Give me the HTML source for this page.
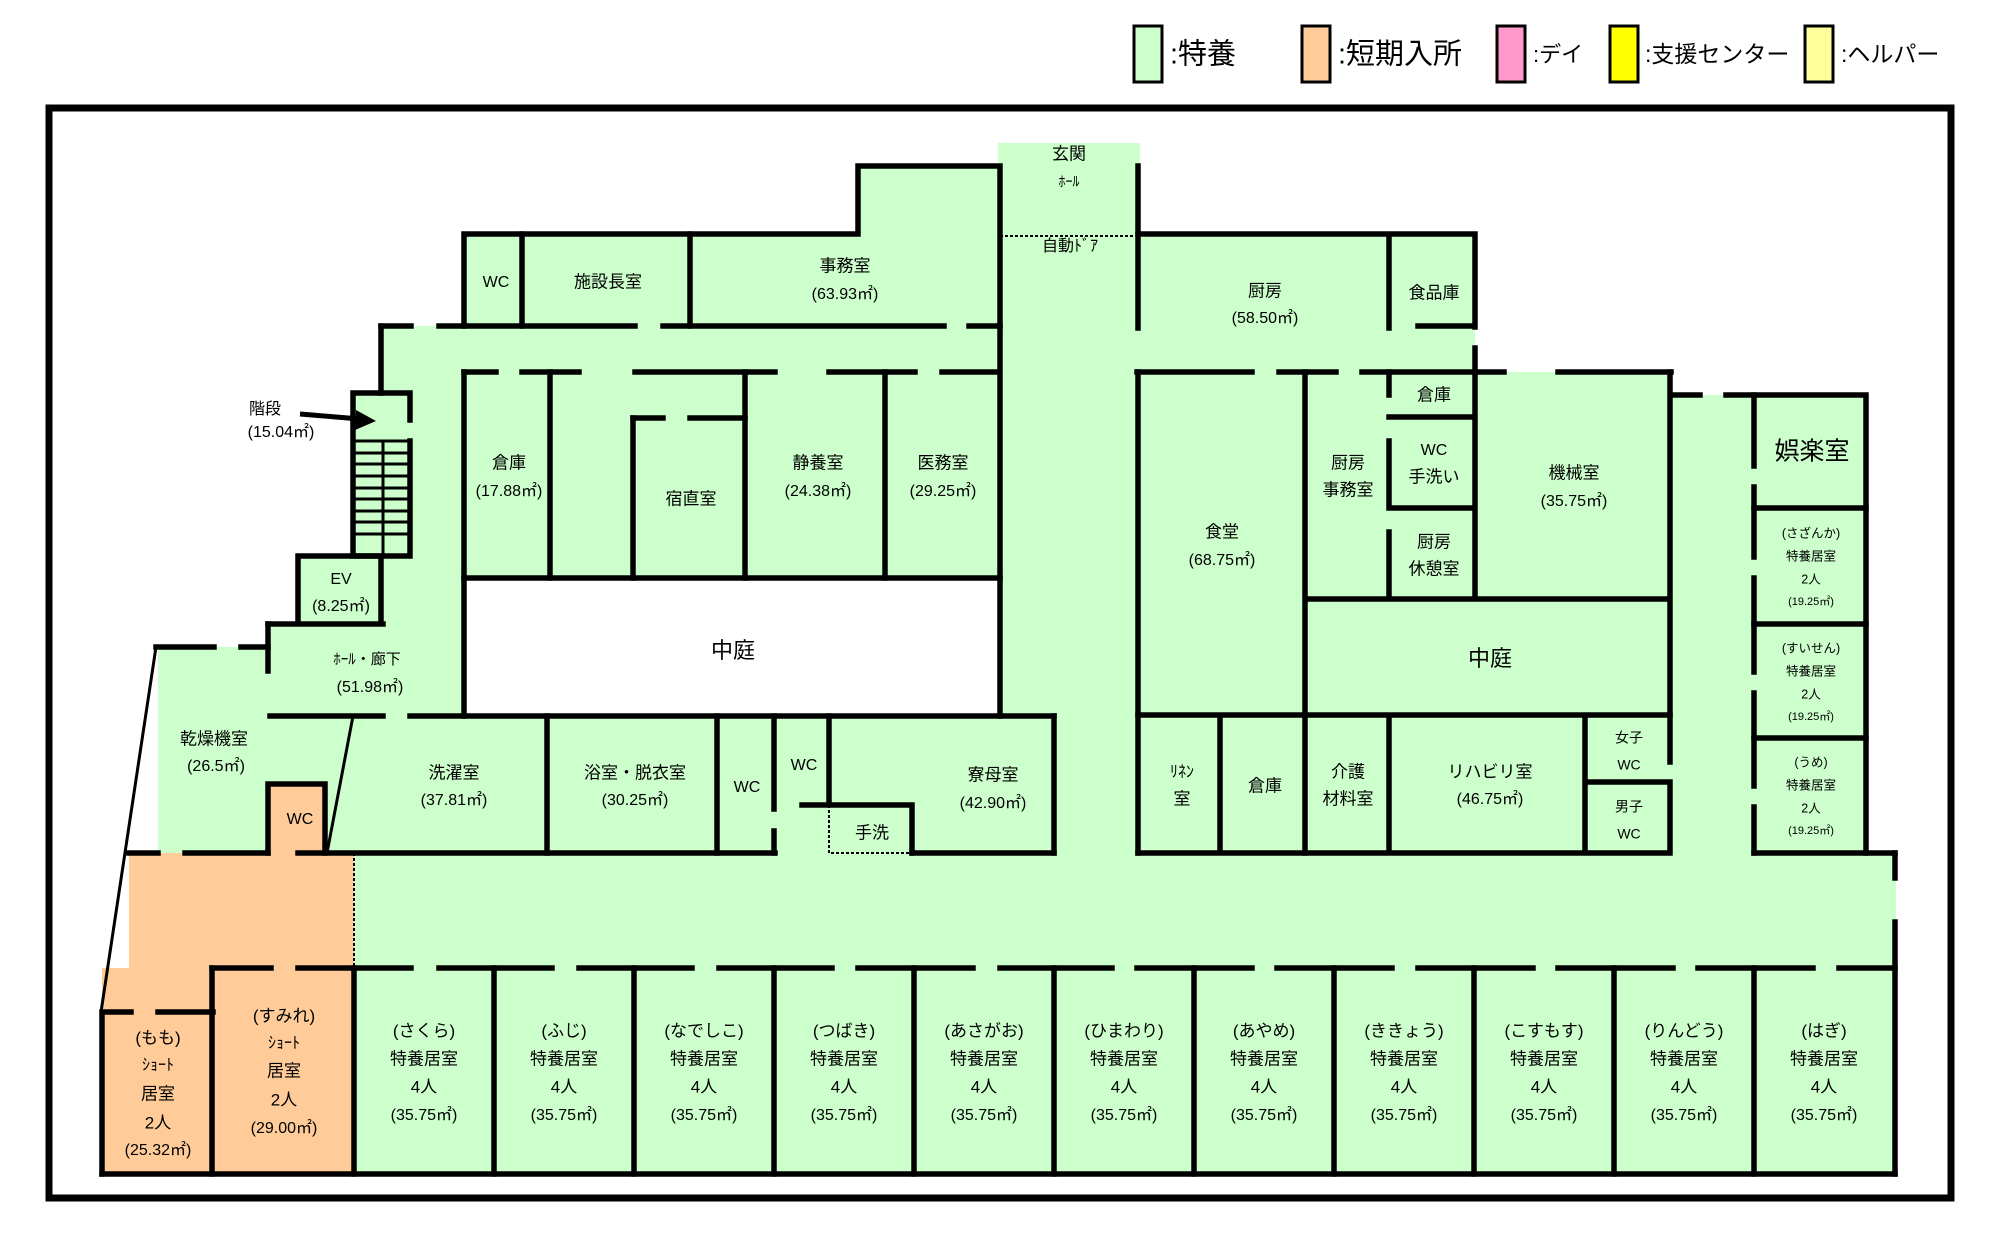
<!DOCTYPE html>
<html><head><meta charset="utf-8"><style>
html,body{margin:0;padding:0;background:#fff;}
svg{display:block;}
text{font-family:"Liberation Sans","Noto Sans CJK JP",sans-serif;fill:#000;text-anchor:middle;dominant-baseline:middle;}
</style></head><body>
<svg width="2000" height="1238" viewBox="0 0 2000 1238" xmlns="http://www.w3.org/2000/svg">
<g stroke="#000" stroke-width="3">
<rect x="1134" y="26" width="28" height="56" fill="#ccffcc"/>
<rect x="1302" y="26" width="28" height="56" fill="#ffcc99"/>
<rect x="1497" y="26" width="28" height="56" fill="#ff99cc"/>
<rect x="1610" y="26" width="28" height="56" fill="#ffff00"/>
<rect x="1805" y="26" width="28" height="56" fill="#ffff99"/>
</g>
<text x="1170" y="56" font-size="29" style="text-anchor:start">:特養</text>
<text x="1338" y="56" font-size="29" style="text-anchor:start">:短期入所</text>
<text x="1533" y="56" font-size="22" style="text-anchor:start">:デイ</text>
<text x="1645" y="56" font-size="23" style="text-anchor:start">:支援センター</text>
<text x="1841" y="56" font-size="23" style="text-anchor:start">:ヘルパー</text>
<g fill="#ccffcc">
<polygon points="464,234 858,234 858,166 1006,166 1006,326 464,326"/>
<rect x="998" y="143" width="142" height="830"/>
<rect x="381" y="326" width="625" height="46"/>
<rect x="381" y="372" width="83" height="344"/>
<rect x="464" y="372" width="542" height="206"/>
<rect x="353" y="393" width="57" height="163"/>
<rect x="298" y="556" width="83" height="68"/>
<rect x="268" y="624" width="196" height="92"/>
<rect x="158" y="647" width="110" height="69"/>
<rect x="158" y="716" width="896" height="137"/>
<rect x="129" y="853" width="1767" height="115"/>
<rect x="354" y="968" width="1541" height="206"/>
<rect x="1137" y="234" width="338" height="138"/>
<rect x="1137" y="372" width="533" height="481"/>
<rect x="1670" y="395" width="196" height="458"/>
</g>
<g fill="#ffcc99">
<polygon points="129,853 354,853 354,1174 102,1174 102,968 129,968"/>
<rect x="268" y="784" width="57" height="69"/>
</g>
<rect x="49" y="108" width="1902" height="1090" fill="none" stroke="#000" stroke-width="7"/>
<g stroke="#000" stroke-width="5.5" fill="none" stroke-linecap="square">
<path d="M464,326 V234 H858 V166 H1000 M1000,166 V326"/>
<path d="M522,234 V326 M690,234 V326"/>
<path d="M381,326 H411 M439,326 H635 M663,326 H944 M969,326 H998"/>
<path d="M381,326 V393"/>
<path d="M410,420 V393 H353 V556 H410 V441"/>
<path d="M298,624 V556 H381 V624 M268,624 H383"/>
<path d="M268,624 V671"/>
<path d="M156,647 H214 M241,647 H268"/>
<path d="M464,372 H496 M522,372 H579 M635,372 H775 M829,372 H915 M942,372 H998"/>
<path d="M464,372 V716 M550,372 V578 M633,418 V578 M745,372 V578 M885,372 V578 M1000,326 V716"/>
<path d="M633,418 H663 M690,418 H745"/>
<path d="M464,578 H1000"/>
<path d="M270,716 H383 M410,716 H1054"/>
<path d="M1054,716 V853"/>
<path d="M268,853 V784 H325 V853"/>
<path d="M129,853 H158 M185,853 H268 M298,853 H775 M912,853 H1054"/>
<path d="M547,716 V853 M717,716 V853 M774,716 V809 M774,831 V853 M829,716 V805 M802,805 H912 V853"/>
<path d="M212,968 H271 M298,968 H411 M439,968 H552 M579,968 H692 M719,968 H832 M858,968 H973 M1000,968 H1112 M1137,968 H1252 M1277,968 H1392 M1418,968 H1533 M1558,968 H1673 M1698,968 H1813 M1839,968 H1895"/>
<path d="M102,1012 H131 M158,1012 H213 M102,1012 V1174 M212,968 V1174"/>
<path d="M354,968 V1174 M494,968 V1174 M634,968 V1174 M774,968 V1174 M914,968 V1174 M1054,968 V1174 M1194,968 V1174 M1334,968 V1174 M1474,968 V1174 M1614,968 V1174 M1754,968 V1174"/>
<path d="M1895,853 V878 M1895,922 V1174"/>
<path d="M102,1174 H1895"/>
<path d="M1754,853 H1895"/>
<path d="M1138,166 V328"/>
<path d="M1138,234 H1475 V327 M1475,348 V372 M1389,234 V328 M1418,326 H1475"/>
<path d="M1137,372 H1252 M1279,372 H1336 M1362,372 H1504 M1558,372 H1671"/>
<path d="M1138,372 V853 M1305,372 V853 M1389,372 V395 M1389,441 V508 M1389,532 V599 M1475,372 V599 M1389,417 H1475 M1389,508 H1475 M1305,599 H1670 M1670,372 V715"/>
<path d="M1138,715 H1670 M1220,715 V853 M1389,715 V853 M1585,715 V853 M1585,782 H1670 M1670,715 V762 M1670,786 V853 M1138,853 H1670"/>
<path d="M1672,395 H1700 M1726,395 H1866 V853"/>
<path d="M1754,395 V466 M1754,487 V557 M1754,578 V672 M1754,693 V786 M1754,807 V853"/>
<path d="M1754,508 H1866 M1754,624 H1866 M1754,738 H1866"/>
</g>
<g stroke="#000" stroke-width="3" fill="none">
<path d="M156,647 L101,1012 M353,716 L327,853"/>
<path d="M383,441 V556 M353,441 H410 M353,453 H410 M353,464 H410 M353,476 H410 M353,488 H410 M353,499 H410 M353,511 H410 M353,522 H410 M353,534 H410"/>
</g>
<g stroke="#000" stroke-width="2" stroke-dasharray="3,2" fill="none">
<path d="M1000,236 H1135 M354,853 V968 M829,805 V853 H912"/>
</g>
<line x1="300" y1="414" x2="360" y2="419" stroke="#000" stroke-width="5"/>
<polygon points="376,421 356,410 355,430" fill="#000"/>
<g font-size="16">
<text x="265" y="410">階段</text><text x="281" y="433">(15.04㎡)</text>
<text x="496" y="283">WC</text><text x="608" y="283" font-size="17">施設長室</text>
<text x="845" y="267" font-size="17">事務室</text><text x="845" y="295">(63.93㎡)</text>
<text x="1069" y="155" font-size="17">玄関</text><text x="1069" y="183" font-size="14">ﾎｰﾙ</text>
<text x="1070" y="247">自動ﾄﾞｱ</text>
<text x="509" y="464" font-size="17">倉庫</text><text x="509" y="492">(17.88㎡)</text>
<text x="691" y="500" font-size="17">宿直室</text>
<text x="818" y="464" font-size="17">静養室</text><text x="818" y="492">(24.38㎡)</text>
<text x="943" y="464" font-size="17">医務室</text><text x="943" y="492">(29.25㎡)</text>
<text x="341" y="580">EV</text><text x="341" y="607">(8.25㎡)</text>
<text x="367" y="660" font-size="15">ﾎｰﾙ・廊下</text><text x="370" y="688">(51.98㎡)</text>
<text x="733" y="652" font-size="22">中庭</text>
<text x="214" y="740" font-size="17">乾燥機室</text><text x="216" y="767">(26.5㎡)</text>
<text x="300" y="820">WC</text>
<text x="454" y="774" font-size="17">洗濯室</text><text x="454" y="801">(37.81㎡)</text>
<text x="635" y="774" font-size="17">浴室・脱衣室</text><text x="635" y="801">(30.25㎡)</text>
<text x="747" y="788">WC</text><text x="804" y="766">WC</text>
<text x="993" y="776" font-size="17">寮母室</text><text x="993" y="804">(42.90㎡)</text>
<text x="872" y="834" font-size="17">手洗</text>
<text x="1265" y="292" font-size="17">厨房</text><text x="1265" y="319">(58.50㎡)</text>
<text x="1434" y="294" font-size="17">食品庫</text>
<text x="1434" y="396" font-size="17">倉庫</text>
<text x="1434" y="451">WC</text><text x="1434" y="478" font-size="17">手洗い</text>
<text x="1348" y="464" font-size="17">厨房</text><text x="1348" y="491" font-size="17">事務室</text>
<text x="1574" y="474" font-size="17">機械室</text><text x="1574" y="502">(35.75㎡)</text>
<text x="1222" y="533" font-size="17">食堂</text><text x="1222" y="561">(68.75㎡)</text>
<text x="1434" y="543" font-size="17">厨房</text><text x="1434" y="570" font-size="17">休憩室</text>
<text x="1490" y="660" font-size="22">中庭</text>
<text x="1182" y="773" font-size="16">ﾘﾈﾝ</text><text x="1182" y="800" font-size="17">室</text>
<text x="1265" y="787" font-size="17">倉庫</text>
<text x="1348" y="773" font-size="17">介護</text><text x="1348" y="800" font-size="17">材料室</text>
<text x="1490" y="773" font-size="17">リハビリ室</text><text x="1490" y="800">(46.75㎡)</text>
<text x="1629" y="739" font-size="14">女子</text><text x="1629" y="766" font-size="14">WC</text>
<text x="1629" y="808" font-size="14">男子</text><text x="1629" y="835" font-size="14">WC</text>
<text x="1812" y="453" font-size="25">娯楽室</text>
</g>
<g font-size="12.5">
<text x="1811" y="534">(さざんか)</text><text x="1811" y="557">特養居室</text><text x="1811" y="580">2人</text><text x="1811" y="602" font-size="11">(19.25㎡)</text>
<text x="1811" y="649">(すいせん)</text><text x="1811" y="672">特養居室</text><text x="1811" y="695">2人</text><text x="1811" y="717" font-size="11">(19.25㎡)</text>
<text x="1811" y="763">(うめ)</text><text x="1811" y="786">特養居室</text><text x="1811" y="809">2人</text><text x="1811" y="831" font-size="11">(19.25㎡)</text>
</g>
<g font-size="17">
<text x="158" y="1039">(もも)</text><text x="158" y="1066" font-size="16">ｼｮｰﾄ</text><text x="158" y="1095">居室</text><text x="158" y="1124">2人</text><text x="158" y="1151" font-size="16">(25.32㎡)</text>
<text x="284" y="1017">(すみれ)</text><text x="284" y="1044" font-size="16">ｼｮｰﾄ</text><text x="284" y="1072">居室</text><text x="284" y="1101">2人</text><text x="284" y="1129" font-size="16">(29.00㎡)</text>
</g>
<g font-size="17">
<text x="424" y="1032">(さくら)</text><text x="424" y="1060">特養居室</text><text x="424" y="1088">4人</text><text x="424" y="1116" font-size="16">(35.75㎡)</text>
<text x="564" y="1032">(ふじ)</text><text x="564" y="1060">特養居室</text><text x="564" y="1088">4人</text><text x="564" y="1116" font-size="16">(35.75㎡)</text>
<text x="704" y="1032">(なでしこ)</text><text x="704" y="1060">特養居室</text><text x="704" y="1088">4人</text><text x="704" y="1116" font-size="16">(35.75㎡)</text>
<text x="844" y="1032">(つばき)</text><text x="844" y="1060">特養居室</text><text x="844" y="1088">4人</text><text x="844" y="1116" font-size="16">(35.75㎡)</text>
<text x="984" y="1032">(あさがお)</text><text x="984" y="1060">特養居室</text><text x="984" y="1088">4人</text><text x="984" y="1116" font-size="16">(35.75㎡)</text>
<text x="1124" y="1032">(ひまわり)</text><text x="1124" y="1060">特養居室</text><text x="1124" y="1088">4人</text><text x="1124" y="1116" font-size="16">(35.75㎡)</text>
<text x="1264" y="1032">(あやめ)</text><text x="1264" y="1060">特養居室</text><text x="1264" y="1088">4人</text><text x="1264" y="1116" font-size="16">(35.75㎡)</text>
<text x="1404" y="1032">(ききょう)</text><text x="1404" y="1060">特養居室</text><text x="1404" y="1088">4人</text><text x="1404" y="1116" font-size="16">(35.75㎡)</text>
<text x="1544" y="1032">(こすもす)</text><text x="1544" y="1060">特養居室</text><text x="1544" y="1088">4人</text><text x="1544" y="1116" font-size="16">(35.75㎡)</text>
<text x="1684" y="1032">(りんどう)</text><text x="1684" y="1060">特養居室</text><text x="1684" y="1088">4人</text><text x="1684" y="1116" font-size="16">(35.75㎡)</text>
<text x="1824" y="1032">(はぎ)</text><text x="1824" y="1060">特養居室</text><text x="1824" y="1088">4人</text><text x="1824" y="1116" font-size="16">(35.75㎡)</text>
</g>
</svg>
</body></html>
